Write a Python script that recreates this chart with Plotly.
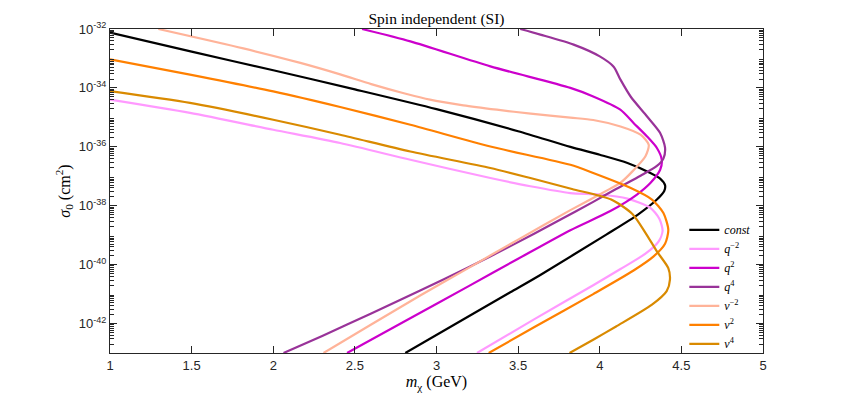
import plotly.graph_objects as go

# dark matter mass (GeV) and log10 of sigma_0 (cm^2)
const_m = [1.00, 1.50, 2.00, 2.50, 3.00, 3.50, 3.82, 4.00, 4.17, 4.31, 4.37, 4.40,
           4.395, 4.35, 4.234, 4.04, 3.636, 3.452, 3.105, 2.809]
const_s = [-32.12, -32.77, -33.40, -34.05, -34.72, -35.47, -36.00, -36.27, -36.55, -36.89, -37.08, -37.30,
           -37.50, -37.79, -38.30, -38.98, -40.35, -40.94, -42.05, -43.0]

qm2_m = [1.00, 1.49, 2.00, 2.41, 2.84, 3.33, 3.575, 3.82, 4.00, 4.17, 4.31, 4.365, 4.385,
         4.36, 4.28, 4.127, 3.96, 3.60, 3.248]
qm2_s = [-34.40, -34.85, -35.42, -35.87, -36.44, -37.06, -37.34, -37.57, -37.62, -37.76, -38.07, -38.44, -38.85,
         -39.22, -39.63, -40.15, -40.70, -41.85, -43.0]

q2_m = [2.544, 2.84, 3.33, 3.82, 3.96, 4.126, 4.207, 4.29, 4.35, 4.38, 4.37, 4.31,
        4.228, 4.065, 3.82, 3.50, 3.20, 2.80, 2.452]
q2_s = [-32.0, -32.42, -33.27, -34.0, -34.29, -34.74, -35.19, -35.65, -36.04, -36.44, -36.78, -37.23,
        -37.62, -38.18, -38.83, -39.80, -40.72, -41.94, -43.0]

q4_m = [3.513, 3.636, 3.84, 4.00, 4.085, 4.127, 4.19, 4.29, 4.37, 4.40, 4.39, 4.35, 4.25,
        4.10, 3.96, 3.76, 3.45, 3.20, 2.90, 2.60, 2.30, 2.063]
q4_s = [-32.0, -32.19, -32.53, -32.93, -33.28, -33.72, -34.30, -34.97, -35.53, -36.03, -36.40, -36.65, -36.98,
        -37.43, -37.87, -38.47, -39.38, -40.08, -40.88, -41.66, -42.42, -43.0]

vm2_m = [1.296, 1.817, 2.166, 2.41, 2.60, 2.80, 2.96, 3.164, 3.37, 3.577, 3.82, 3.96, 4.127,
         4.25, 4.30, 4.28, 4.206, 4.127, 4.065, 3.82, 3.50, 3.20, 2.90, 2.60, 2.308]
vm2_s = [-32.0, -32.66, -33.15, -33.54, -33.87, -34.18, -34.40, -34.59, -34.74, -34.875, -35.01, -35.09, -35.31,
         -35.59, -35.93, -36.32, -36.80, -37.22, -37.42, -38.15, -39.15, -40.10, -41.05, -42.03, -43.0]

v2_m = [1.00, 1.49, 2.00, 2.41, 2.84, 3.33, 3.82, 3.96, 4.187, 4.32, 4.39, 4.42,
        4.40, 4.33, 4.207, 3.96, 3.60, 3.32]
v2_s = [-33.03, -33.55, -34.12, -34.65, -35.25, -35.99, -36.61, -36.89, -37.39, -37.79, -38.25, -38.82,
        -39.29, -39.72, -40.20, -41.00, -42.12, -43.0]

v4_m = [1.00, 1.49, 2.00, 2.41, 2.84, 3.33, 3.575, 3.83, 4.07, 4.20, 4.28, 4.35, 4.42,
        4.43, 4.41, 4.32, 4.10, 3.96, 3.815]
v4_s = [-34.11, -34.51, -35.08, -35.59, -36.16, -36.72, -37.06, -37.43, -37.79, -38.28, -38.92, -39.55, -40.12,
        -40.51, -40.90, -41.36, -42.10, -42.55, -43.0]

x_ticks = [1, 1.5, 2, 2.5, 3, 3.5, 4, 4.5, 5]
y_exps = [-42, -40, -38, -36, -34, -32]
y_minor = [k * 10.0 ** e for e in range(-43, -32) for k in range(2, 10)]

SERIF = "Liberation Serif, DejaVu Serif, serif"
SANS = "Liberation Sans, Arial, sans-serif"
AXIS = "#262626"

series = [
    ("<i>const</i>", const_m, const_s, "#000000"),
    ("<i>q</i><sup>−2</sup>", qm2_m, qm2_s, "#FF99FF"),
    ("<i>q</i><sup>2</sup>", q2_m, q2_s, "#CC00CC"),
    ("<i>q</i><sup>4</sup>", q4_m, q4_s, "#993399"),
    ("<i>v</i><sup>−2</sup>", vm2_m, vm2_s, "#FFB399"),
    ("<i>v</i><sup>2</sup>", v2_m, v2_s, "#FF8000"),
    ("<i>v</i><sup>4</sup>", v4_m, v4_s, "#D98A00"),
]

fig = go.Figure()
for name, m, s, col in series:
    fig.add_trace(go.Scatter(
        x=m, y=[10 ** v for v in s], mode="lines", name=name,
        line=dict(color=col, width=2.2, shape="spline", smoothing=0.7),
    ))

fig.update_layout(
    width=843, height=397,
    paper_bgcolor="white", plot_bgcolor="white",
    margin=dict(l=102, r=88, t=21, b=52),
    font=dict(family=SANS, color=AXIS, size=13),
    title=dict(text="Spin independent (SI)", x=0.5, xref="paper", y=0.974, yref="container",
               yanchor="middle", font=dict(family=SERIF, size=15.5, color="#000000")),
    legend=dict(x=0.8795, y=0.425, xanchor="left", yanchor="top", bgcolor="rgba(0,0,0,0)",
                font=dict(family=SERIF, size=12, color="#000000"), tracegroupgap=0, itemwidth=30),
)
fig.update_xaxes(
    range=[1, 5], tickvals=x_ticks, ticktext=[f"{t:g}" for t in x_ticks],
    ticks="inside", ticklen=7, tickcolor=AXIS, showline=True, linecolor=AXIS, linewidth=1,
    mirror="ticks", showgrid=False, zeroline=False,
    title=dict(text="<i>m</i><sub>χ</sub> (GeV)", font=dict(family=SERIF, size=16, color="#000000"),
               standoff=4),
)
fig.update_yaxes(
    type="log", range=[-43, -32],
    tickvals=[10 ** e for e in y_exps], ticktext=[f"10<sup>{e}</sup>" for e in y_exps],
    ticks="inside", ticklen=7, tickcolor=AXIS, showline=True, linecolor=AXIS, linewidth=1,
    mirror="ticks", showgrid=False, zeroline=False,
    minor=dict(tickmode="array", tickvals=y_minor, ticks="inside", ticklen=4,
               tickcolor=AXIS, tickwidth=1, showgrid=False),
    title=dict(text="<i>σ</i><sub>0</sub> (cm<sup>2</sup>)", font=dict(family=SERIF, size=16, color="#000000"),
               standoff=4),
)

fig.write_html("out.html")
